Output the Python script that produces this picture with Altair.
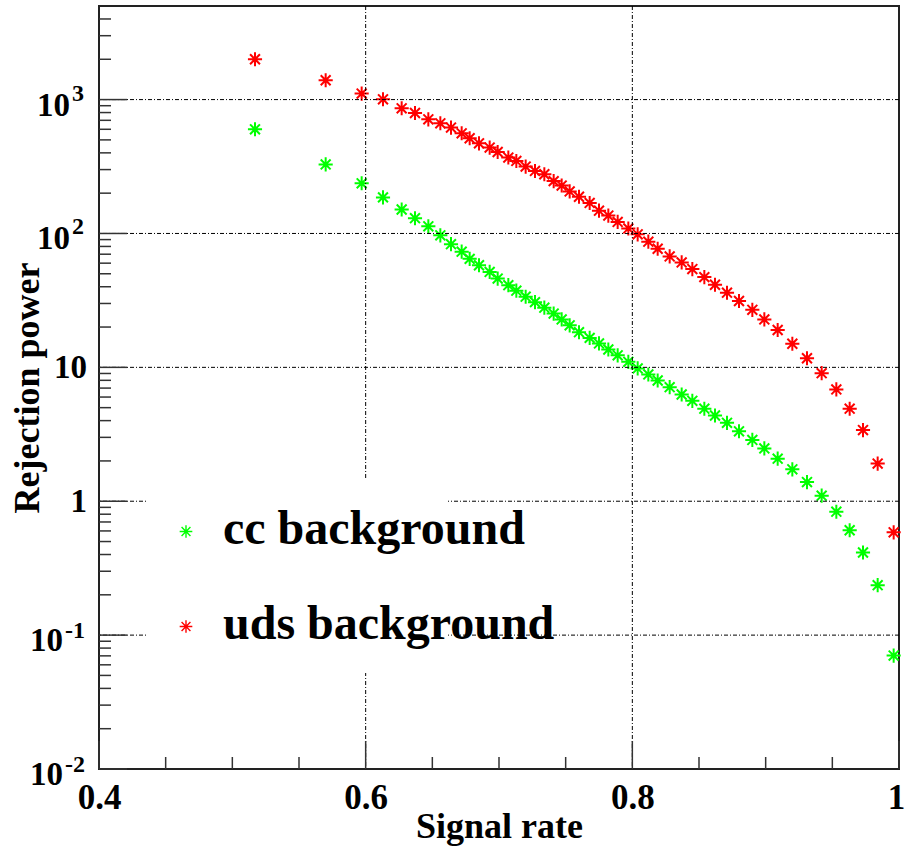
import altair as alt
import pandas as pd

# ---- data ----
signal_rate = [0.517, 0.570, 0.597, 0.613, 0.627, 0.637, 0.647, 0.656, 0.664, 0.672,
               0.678, 0.685, 0.693, 0.699, 0.707, 0.713, 0.720, 0.727, 0.734, 0.741,
               0.747, 0.753, 0.760, 0.768, 0.775, 0.782, 0.789, 0.797, 0.804, 0.812,
               0.819, 0.828, 0.837, 0.845, 0.854, 0.862, 0.871, 0.880, 0.890, 0.899,
               0.909, 0.920, 0.931, 0.942, 0.953, 0.963, 0.973, 0.984, 0.996]

cc_rejection = [600, 328, 237, 186, 151, 130, 113, 96.8, 83.2, 73.1,
                64.6, 57.9, 51.6, 46.0, 41.1, 37.4, 33.7, 30.7, 27.9, 25.2,
                22.8, 20.6, 18.3, 16.6, 15.1, 13.6, 12.3, 11.0, 9.82, 8.85,
                7.98, 7.11, 6.27, 5.62, 4.91, 4.37, 3.85, 3.33, 2.87, 2.48,
                2.08, 1.73, 1.39, 1.10, 0.835, 0.607, 0.414, 0.236, 0.0703]

uds_rejection = [2000, 1394, 1109, 1005, 861, 794, 712, 665, 618, 560,
                 514, 471, 438, 406, 369, 348, 316, 293, 277, 246,
                 228, 206, 188, 169, 148, 136, 122, 109, 98.5, 86.8,
                 76.9, 67.4, 60.8, 54.2, 47.2, 41.4, 36.1, 31.3, 26.9, 22.8,
                 19.0, 15.0, 11.7, 9.05, 6.84, 4.91, 3.40, 1.91, 0.586]

series_names = ["cc background", "uds background"]
series_colors = ["#00ff00", "#ff0000"]

x_major = [0.4, 0.6, 0.8, 1.0]
x_minor = [0.45, 0.5, 0.55, 0.65, 0.7, 0.75, 0.85, 0.9, 0.95]
x_grid = [0.6, 0.8]
y_major = [0.01, 0.1, 1, 10, 100, 1000]
y_grid = [0.1, 1, 10, 100, 1000]
y_minor = [m * 10.0 ** e for e in range(-2, 4) for m in range(2, 10) if m * 10.0 ** e < 5000]
y_label_base = ["10", "10", "1", "10", "10", "10"]
y_label_exp = ["-2", "-1", "", "", "2", "3"]

# ---- tables ----
n = len(signal_rate)
df = pd.DataFrame({
    "signal": signal_rate * 2,
    "rej": cc_rejection + uds_rejection,
    "series": [series_names[0]] * n + [series_names[1]] * n,
})
lab_df = pd.DataFrame({"v": y_major, "base": y_label_base, "exp": y_label_exp})

W, H = 800, 763
FONT = "Liberation Serif"
STAR = "M0,-1L0,1M-1,0L1,0M-0.7,-0.7L0.7,0.7M-0.7,0.7L0.7,-0.7"

xs = alt.Scale(domain=[0.4, 1.0], nice=False, zero=False)
ys = alt.Scale(type="log", domain=[0.01, 5000], nice=False)
color_scale = alt.Scale(domain=series_names, range=series_colors)

x_axis = alt.Axis(
    values=x_major, labelExpr="datum.value == 1 ? '1' : format(datum.value, '.1f')",
    labelFont=FONT, labelFontSize=35, labelFontWeight="bold", labelColor="black",
    labelBaseline="alphabetic", labelPadding=39, labelFlush=False, labelOverlap=False,
    labelOffset={"condition": {"test": "datum.value == 1", "value": -3}, "value": 0},
    ticks=False, tickSize=0, domain=False, grid=False,
    titleFont=FONT, titleFontSize=36, titleFontWeight="bold",
    titleColor="black", titleBaseline="alphabetic", titleY=68)
y_axis = alt.Axis(
    labels=False, ticks=False, domain=False, grid=False,
    titleFont=FONT, titleFontSize=36, titleFontWeight="bold",
    titleColor="black", titleBaseline="alphabetic", titleX=-61)
XT = "Signal rate"
YT = "Rejection power"


def X(field):
    return alt.X(field, scale=xs, axis=x_axis, title=XT)


def Y(field):
    return alt.Y(field, scale=ys, axis=y_axis, title=YT)


points = alt.Chart(df).mark_point(shape=STAR, filled=False, size=200, strokeWidth=2.0, opacity=1).encode(
    x=X("signal:Q"), y=Y("rej:Q"),
    color=alt.Color("series:N", scale=color_scale, legend=None),
)

dash = [4, 2, 1, 2]
grid_v = alt.Chart(pd.DataFrame({"v": x_grid})).mark_rule(color="black", strokeWidth=1, strokeDash=dash).encode(
    x=X("v:Q"))
grid_h = alt.Chart(pd.DataFrame({"v": y_grid})).mark_rule(color="black", strokeWidth=1, strokeDash=dash).encode(
    y=Y("v:Q"))

legend_box = alt.Chart(pd.DataFrame({"a": [0]})).mark_rect(fill="white").encode(
    x=alt.value(49), x2=alt.value(349), y=alt.value(474), y2=alt.value(667))

TICK_C = "#333333"
ymaj = alt.Chart(pd.DataFrame({"v": y_major})).mark_rule(color=TICK_C, strokeWidth=1.5).encode(
    y=Y("v:Q"), x=alt.value(0), x2=alt.value(28))
ymin = alt.Chart(pd.DataFrame({"v": y_minor})).mark_rule(color=TICK_C, strokeWidth=1.5).encode(
    y=Y("v:Q"), x=alt.value(0), x2=alt.value(12))
xmaj = alt.Chart(pd.DataFrame({"v": x_major})).mark_rule(color=TICK_C, strokeWidth=1.5).encode(
    x=X("v:Q"), y=alt.value(H), y2=alt.value(H - 28))
xmin = alt.Chart(pd.DataFrame({"v": x_minor})).mark_rule(color=TICK_C, strokeWidth=1.5).encode(
    x=X("v:Q"), y=alt.value(H), y2=alt.value(H - 12))

lab_base = alt.Chart(lab_df)
txt = dict(font=FONT, fontWeight="bold", color="black", baseline="alphabetic")
plain = lab_base.transform_filter("length(datum.exp) == 0").mark_text(
    align="right", dy=11, fontSize=33, **txt).encode(
    y=Y("v:Q"), x=alt.value(-12), text="base:N")
b1 = lab_base.transform_filter("length(datum.exp) == 1").mark_text(
    align="right", dy=16, fontSize=33, **txt).encode(
    y=Y("v:Q"), x=alt.value(-29), text="base:N")
e1 = lab_base.transform_filter("length(datum.exp) == 1").mark_text(
    align="left", dy=1, fontSize=24, **txt).encode(
    y=Y("v:Q"), x=alt.value(-27), text="exp:N")
b2 = lab_base.transform_filter("length(datum.exp) == 2").mark_text(
    align="right", dy=16, fontSize=33, **txt).encode(
    y=Y("v:Q"), x=alt.value(-36), text="base:N")
e2 = lab_base.transform_filter("length(datum.exp) == 2").mark_text(
    align="left", dy=3, fontSize=24, **txt).encode(
    y=Y("v:Q"), x=alt.value(-34), text="exp:N")

leg_layers = []
for i, (name, col) in enumerate(zip(series_names, series_colors)):
    yy = 525.5 + i * 95
    leg_layers.append(alt.Chart(pd.DataFrame({"a": [0]})).mark_point(
        shape=STAR, filled=False, size=160, strokeWidth=1.4, color=col, opacity=1).encode(
        x=alt.value(87), y=alt.value(yy)))
    leg_layers.append(alt.Chart(pd.DataFrame({"a": [0]})).mark_text(
        align="left", fontSize=48, **txt).encode(
        x=alt.value(124), y=alt.value(yy + 12), text=alt.value(name)))

chart = alt.layer(points, grid_v, grid_h, legend_box, ymaj, ymin, xmaj, xmin,
                  plain, b1, e1, b2, e2, *leg_layers).properties(
    width=W, height=H,
    padding={"left": 99, "top": 6, "right": 7, "bottom": 81},
    autosize="none",
).configure_view(stroke="#222222", strokeWidth=2)

chart.save("out.html", embed_options={"renderer": "svg", "actions": False})
